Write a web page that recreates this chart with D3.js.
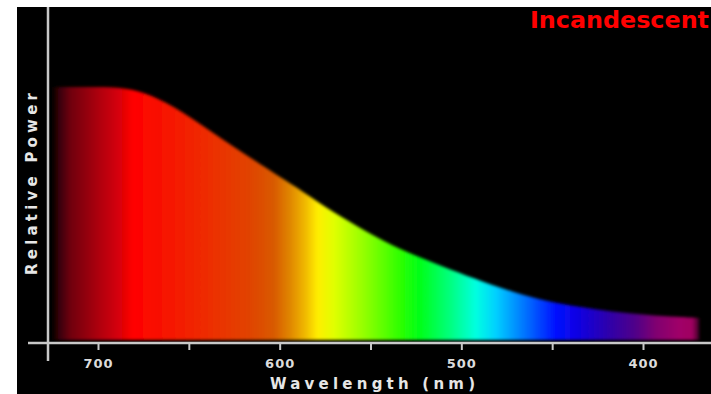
<!DOCTYPE html>
<html><head><meta charset="utf-8">
<script src="https://cdn.jsdelivr.net/npm/d3@7"></script>
<style>html,body{margin:0;padding:0;background:#fff;}svg{display:block;}</style>
</head><body>
<script>
// ---- data ----
const wavelengths = [725, 712, 700, 688, 675, 659, 638, 613, 591, 580, 561, 543, 524, 506, 488, 472, 453, 435, 417, 398, 380, 369];
const relativePower = [100, 100, 100, 99.8, 98.2, 92.8, 82.5, 70.5, 60.5, 55.0, 46.4, 39.0, 32.9, 27.8, 23.0, 19.0, 15.3, 13.1, 11.2, 9.9, 9.1, 8.7];
const majorTicks = [700, 600, 500, 400];
const allTicks = [700, 650, 600, 550, 500, 450, 400];
const spectrumWl = [726, 721, 715, 699, 688, 681, 666, 644, 616, 603, 594, 586, 579, 570, 553, 534, 523, 506, 492, 481, 470, 459, 448, 435, 418, 404, 393, 380, 373, 367];
const spectrumColors = ["#000000","#3a0008","#700010","#b00010","#d80008","#ff0000","#f81000","#f02800","#e04400","#d85a00","#e08800","#f0b800","#ffee00","#e0ff00","#90ff00","#30ff00","#00ff18","#00ff80","#00ffe0","#00d0ff","#0090ff","#0050ff","#0010ff","#1000e0","#3000a8","#500088","#800070","#a00068","#a00060","#000000"];
const title = "Incandescent";
const xLabel = "Wavelength (nm)";
const yLabel = "Relative Power";

const W = 711, H = 394;
const svg = d3.select("body").append("svg").attr("width", W).attr("height", H);

svg.append("rect").attr("x", 17).attr("y", 7).attr("width", W - 17).attr("height", H - 7).attr("fill", "#000");

const x = d3.scaleLinear().domain([700, 400]).range([98, 643]);
const y = d3.scaleLinear().domain([0, 100]).range([340, 87]);

const defs = svg.append("defs");
const grad = defs.append("linearGradient").attr("id", "spec")
  .attr("gradientUnits", "userSpaceOnUse")
  .attr("x1", x(spectrumWl[0])).attr("x2", x(spectrumWl[spectrumWl.length - 1]))
  .attr("y1", 0).attr("y2", 0);
const x0 = x(spectrumWl[0]), x1 = x(spectrumWl[spectrumWl.length - 1]);
spectrumWl.forEach((w, i) => {
  grad.append("stop").attr("offset", (x(w) - x0) / (x1 - x0)).attr("stop-color", spectrumColors[i]);
});
defs.append("filter").attr("id", "soft").attr("x", "-5%").attr("y", "-5%").attr("width", "110%").attr("height", "110%")
  .append("feGaussianBlur").attr("stdDeviation", 1.6);

const data = wavelengths.map((w, i) => ({ w, p: relativePower[i] }));
const area = d3.area().x(d => x(d.w)).y0(y(0)).y1(d => y(d.p)).curve(d3.curveBasis);
svg.append("path").datum(data).attr("d", area).attr("fill", "url(#spec)").attr("filter", "url(#soft)");

// axes
const axisColor = "#c8c8c8";
svg.append("line").attr("x1", 48).attr("x2", 48).attr("y1", 7).attr("y2", 361)
  .attr("stroke", axisColor).attr("stroke-width", 2.5);
svg.append("line").attr("x1", 28).attr("x2", W).attr("y1", 343).attr("y2", 343)
  .attr("stroke", axisColor).attr("stroke-width", 2.5);

const xAxis = d3.axisBottom(x).tickValues(allTicks).tickSize(7)
  .tickFormat(d => majorTicks.includes(d) ? d : "");
const gx = svg.append("g").attr("transform", "translate(0,343)").call(xAxis);
gx.select(".domain").remove();
gx.selectAll(".tick line").attr("stroke", axisColor).attr("stroke-width", 2);
gx.selectAll(".tick text").attr("fill", "#dcdcdc").attr("font-family", "DejaVu Sans, sans-serif")
  .attr("font-weight", "bold").attr("font-size", 13).attr("letter-spacing", 1)
  .attr("dy", 0).attr("y", 25);

svg.append("text").attr("x", 270).attr("y", 389)
  .attr("fill", "#e6e6e6").attr("font-family", "DejaVu Sans, sans-serif").attr("font-weight", "bold")
  .attr("font-size", 15).attr("textLength", 205).attr("lengthAdjust", "spacing").text(xLabel);

svg.append("text").attr("transform", "translate(37,275) rotate(-90)")
  .attr("fill", "#e6e6e6").attr("font-family", "DejaVu Sans, sans-serif").attr("font-weight", "bold")
  .attr("font-size", 15).attr("textLength", 182).attr("lengthAdjust", "spacing").text(yLabel);

svg.append("text").attr("x", 530).attr("y", 28)
  .attr("fill", "#ff0000").attr("font-family", "DejaVu Sans Condensed, DejaVu Sans, sans-serif")
  .attr("font-weight", "bold").attr("font-size", 23).attr("textLength", 179).attr("lengthAdjust", "spacingAndGlyphs").text(title);
</script>
</body></html>
